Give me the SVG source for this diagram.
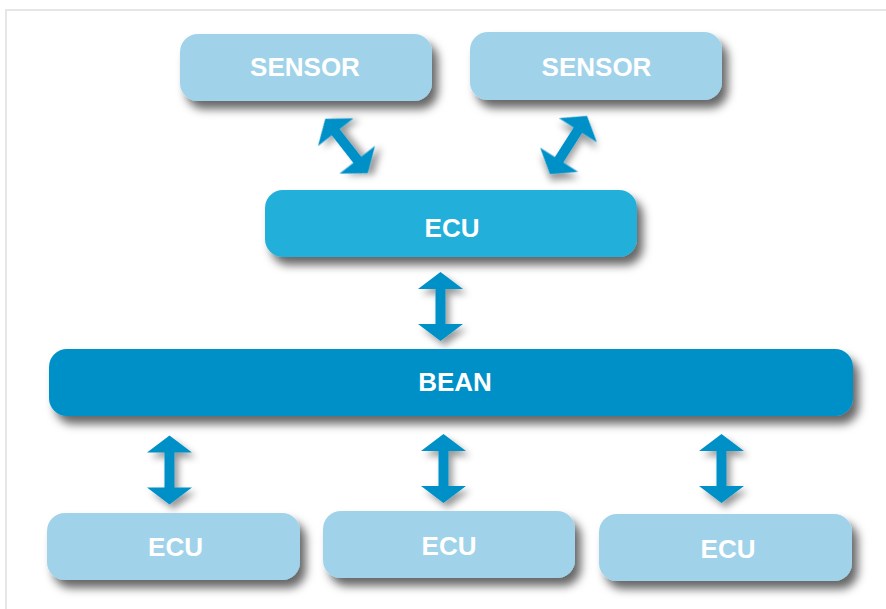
<svg xmlns="http://www.w3.org/2000/svg" width="886" height="609" viewBox="0 0 886 609">
  <defs>
    <filter id="shadow" x="-20%" y="-40%" width="140%" height="200%">
      <feDropShadow dx="6" dy="8" stdDeviation="5" flood-color="#000" flood-opacity="0.6"/>
    </filter>
    <filter id="ashadow" x="-50%" y="-50%" width="200%" height="200%">
      <feDropShadow dx="4" dy="5" stdDeviation="3.5" flood-color="#000" flood-opacity="0.4"/>
    </filter>
    <path id="darrow" d="M0,-34.5 L22.5,-17.5 L5,-17.5 L5,17.5 L22.5,17.5 L0,34.5 L-22.5,17.5 L-5,17.5 L-5,-17.5 L-22.5,-17.5 Z"/>
  </defs>
  <style>
    .light { fill: #a0d3e9; }
    .mid { fill: #23b0da; }
    .dark { fill: #0090c8; }
    .box { filter: url(#shadow); }
    .lbl { font-family: "Liberation Sans", Arial, sans-serif; font-weight: bold; font-size: 26px; fill: #ffffff; text-anchor: middle; }
    .arr { fill: #0090c8; filter: url(#ashadow); }
  </style>
  <rect width="886" height="609" fill="#ffffff"/>
  <path d="M6,609 L6,10 L886,10" fill="none" stroke="#e6e6e6" stroke-width="2"/>

  <g id="connectors">
    <use href="#darrow" class="arr" transform="translate(346.5,146) rotate(-38)"/>
    <use href="#darrow" class="arr" transform="translate(568.5,145) rotate(32.5)"/>
    <use href="#darrow" class="arr" transform="translate(440.5,306.5)"/>
    <use href="#darrow" class="arr" transform="translate(169.5,470)"/>
    <use href="#darrow" class="arr" transform="translate(443.5,468.5)"/>
    <use href="#darrow" class="arr" transform="translate(721.5,468.5)"/>
  </g>

  <g id="sensor1">
    <rect class="light box" x="180" y="34" width="252" height="67" rx="18"/>
    <text class="lbl" x="305" y="75.5">SENSOR</text>
  </g>
  <g id="sensor2">
    <rect class="light box" x="470" y="32" width="252" height="68" rx="18"/>
    <text class="lbl" x="596.5" y="75.5">SENSOR</text>
  </g>
  <g id="ecu-top">
    <rect class="mid box" x="265" y="190" width="372" height="67" rx="18"/>
    <text class="lbl" x="452" y="236.5">ECU</text>
  </g>
  <g id="bean">
    <rect class="dark box" x="49" y="349" width="804" height="67" rx="18"/>
    <text class="lbl" x="455" y="390.5">BEAN</text>
  </g>
  <g id="ecu-1">
    <rect class="light box" x="47" y="513" width="253" height="67" rx="18"/>
    <text class="lbl" x="175.5" y="556">ECU</text>
  </g>
  <g id="ecu-2">
    <rect class="light box" x="323" y="511" width="252" height="67" rx="18"/>
    <text class="lbl" x="449" y="554.5">ECU</text>
  </g>
  <g id="ecu-3">
    <rect class="light box" x="599" y="514" width="253" height="67" rx="18"/>
    <text class="lbl" x="728" y="558">ECU</text>
  </g>
</svg>
